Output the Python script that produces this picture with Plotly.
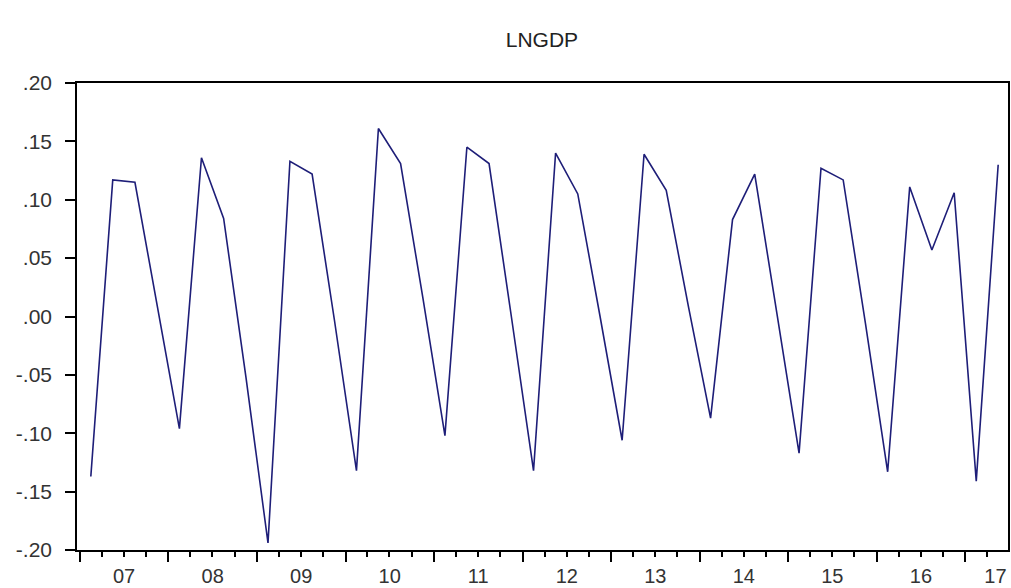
import pandas as pd
import plotly.graph_objects as go

quarters = [f"{y}Q{q}" for y in range(2007, 2018) for q in range(1, 5)][:42]
lngdp = [-0.137, 0.117, 0.115, 0.010,
         -0.096, 0.136, 0.084, -0.052,
         -0.194, 0.133, 0.122, -0.003,
         -0.132, 0.161, 0.131, 0.016,
         -0.102, 0.145, 0.131, 0.000,
         -0.132, 0.140, 0.105, 0.000,
         -0.106, 0.139, 0.108, 0.008,
         -0.087, 0.083, 0.122, 0.002,
         -0.117, 0.127, 0.117, -0.006,
         -0.133, 0.111, 0.057, 0.106,
         -0.141, 0.130]
year_labels = ["07", "08", "09", "10", "11", "12", "13", "14", "15", "16", "17"]
year_label_pos = ["2007-07-02", "2008-07-02", "2009-07-02", "2010-07-02",
                  "2011-07-02", "2012-07-02", "2013-07-02", "2014-07-02",
                  "2015-07-02", "2016-07-02", "2017-05-05"]
y_ticks = [-0.20, -0.15, -0.10, -0.05, 0.00, 0.05, 0.10, 0.15, 0.20]
y_ticktext = ["-.20", "-.15", "-.10", "-.05", ".00", ".05", ".10", ".15", ".20"]

per = pd.PeriodIndex(quarters, freq="Q")
x_dates = per.start_time + (per.end_time - per.start_time) / 2
x_range = ["2006-12-20", "2017-06-26"]

fig = go.Figure()
fig.add_trace(go.Scatter(x=x_dates, y=lngdp, mode="lines",
                         line=dict(color="#1e1e78", width=1.6),
                         showlegend=False, hoverinfo="x+y"))
# invisible trace to carry the year-label axis
fig.add_trace(go.Scatter(x=[x_dates[0]], y=[lngdp[0]], xaxis="x2", mode="markers",
                         marker=dict(opacity=0), showlegend=False, hoverinfo="skip"))

font_family = "Liberation Sans, Arial, sans-serif"
fig.update_layout(
    width=1011, height=588,
    margin=dict(l=77, r=3, t=83, b=38),
    paper_bgcolor="white", plot_bgcolor="white",
    title=dict(text="LNGDP", x=0.536, xanchor="center", y=0.932, yanchor="middle",
               font=dict(family=font_family, size=21, color="#222222")),
    font=dict(family=font_family, size=20, color="#333333"),
    xaxis=dict(
        type="date", range=x_range,
        dtick="M12", tick0="2007-01-01",
        showticklabels=False, automargin=False,
        ticks="outside", ticklen=10, tickwidth=1.5, tickcolor="black",
        minor=dict(dtick="M3", tick0="2007-01-01", ticks="outside", ticklen=5,
                   tickwidth=1.5, tickcolor="black", showgrid=False),
        showline=True, linecolor="black", linewidth=1.5, mirror=True,
        showgrid=False, zeroline=False,
    ),
    xaxis2=dict(
        type="date", range=x_range, overlaying="x", side="bottom", anchor="y",
        tickvals=year_label_pos, ticktext=year_labels, automargin=False,
        ticks="", ticklabelstandoff=12,
        showline=False, showgrid=False, zeroline=False,
        tickfont=dict(family=font_family, size=20, color="#333333"),
    ),
    yaxis=dict(
        range=[-0.20, 0.20], automargin=False,
        tickvals=y_ticks, ticktext=y_ticktext,
        ticks="outside", ticklen=10, tickwidth=1.5, tickcolor="black",
        ticklabelstandoff=9,
        showline=True, linecolor="black", linewidth=1.5, mirror=True,
        showgrid=False, zeroline=False,
        tickfont=dict(family=font_family, size=21, color="#333333"),
    ),
)
fig.write_html("out.html")
